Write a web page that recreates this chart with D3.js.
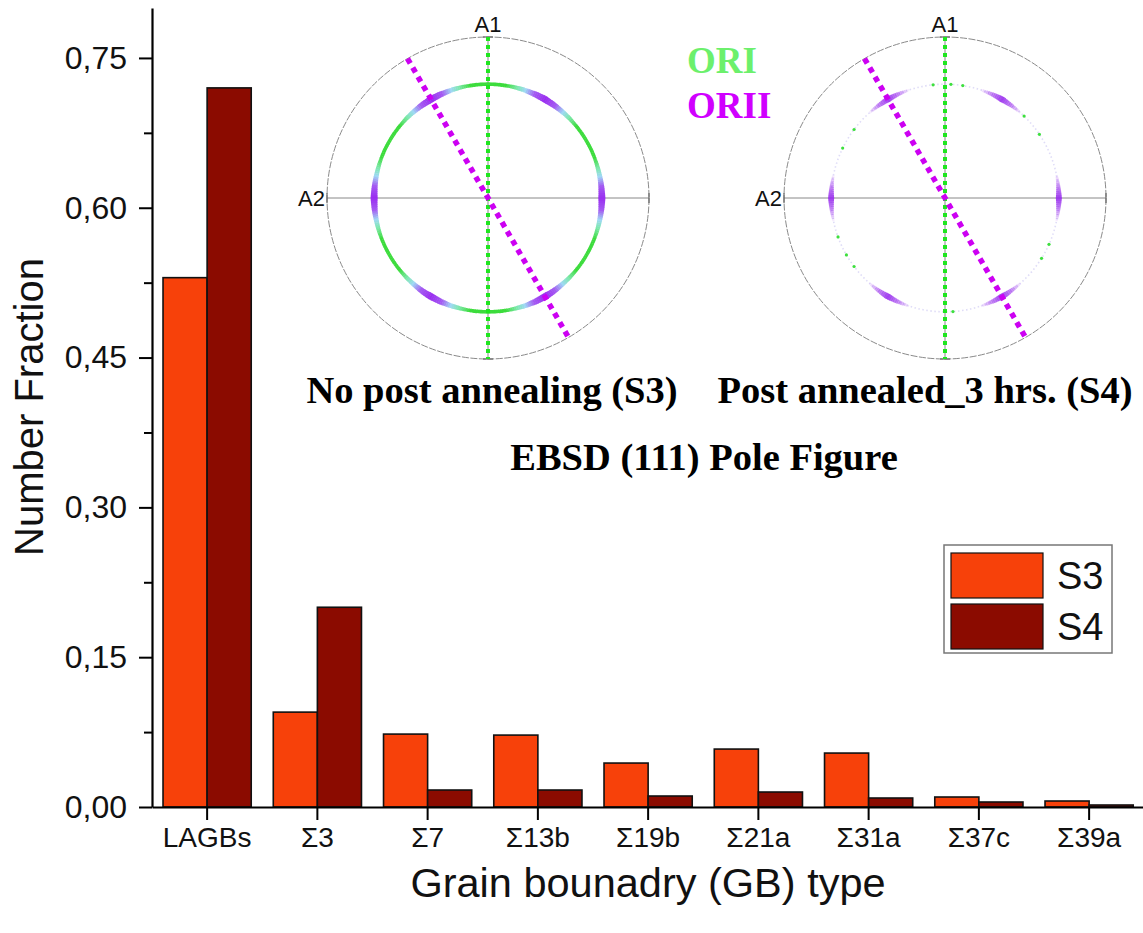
<!DOCTYPE html>
<html>
<head>
<meta charset="utf-8">
<script src="https://cdn.jsdelivr.net/npm/d3@7/dist/d3.min.js"></script>
<style>
  html, body { margin: 0; padding: 0; background: #fff; }
  svg { display: block; }
</style>
</head>
<body>
<svg id="chart" width="1143" height="933"></svg>
<script>
// Grain boundary character distribution
const categories = ["LAGBs", "Σ3", "Σ7", "Σ13b", "Σ19b", "Σ21a", "Σ31a", "Σ37c", "Σ39a"];
const seriesNames = ["S3", "S4"];
const s3Values = [0.530, 0.095, 0.073, 0.072, 0.044, 0.058, 0.054, 0.010, 0.006];
const s4Values = [0.720, 0.200, 0.017, 0.017, 0.011, 0.015, 0.009, 0.005, 0.002];
const yTickValues = [0.00, 0.15, 0.30, 0.45, 0.60, 0.75];
const yMinorTickValues = [0.075, 0.225, 0.375, 0.525, 0.675];

// (111) pole figure content
const poleTilt = 70.53;                       // angle between {111} poles, degrees
const oriIIAzimuths = [0, 60, 120, 180, 240, 300];
const oriTraceAzimuth = 90;                   // ORI trace direction
const oriIITraceAzimuth = 120;                // ORII trace direction
const s4OriSpots = [96, 87, 81, 34, 154, 200, 210, 217, 336, 328, 274, 143, 46];

const svg = d3.select("#chart");
const sansFont = "'Liberation Sans', Arial, sans-serif";
const serifFont = "'Liberation Serif', 'Times New Roman', serif";

const x = d3.scaleBand().domain(categories).range([152, 1144.25]).padding(0);
const xs = d3.scaleBand().domain(seriesNames).range([0, x.bandwidth()]).paddingInner(0).paddingOuter(0.25);
const y = d3.scaleLinear().domain([0, 0.8]).range([807, 8]);
const color = d3.scaleOrdinal().domain(seriesNames).range(["#f7410a", "#8b0b00"]);

const rows = categories.map((c, i) => ({ cat: c, S3: s3Values[i], S4: s4Values[i] }));

// bars
const groups = svg.append("g").selectAll("g").data(rows).join("g")
  .attr("transform", d => `translate(${x(d.cat)},0)`);
groups.selectAll("rect")
  .data(d => seriesNames.map(s => ({ s, v: d[s] })))
  .join("rect")
  .attr("x", d => xs(d.s))
  .attr("width", xs.bandwidth())
  .attr("y", d => y(d.v))
  .attr("height", d => y(0) - y(d.v))
  .attr("fill", d => color(d.s))
  .attr("stroke", "#111")
  .attr("stroke-width", 1.6);

// axes
const fmt = d => d3.format(".2f")(d).replace(".", ",");
const yAxis = svg.append("g").attr("transform", "translate(152,0)")
  .call(d3.axisLeft(y).tickValues(yTickValues).tickSize(13).tickSizeOuter(0).tickPadding(12).tickFormat(fmt));
svg.append("g").attr("transform", "translate(152,0)")
  .call(d3.axisLeft(y).tickValues(yMinorTickValues).tickSize(8).tickSizeOuter(0).tickFormat(""))
  .call(g => g.select(".domain").remove());
const xAxis = svg.append("g").attr("transform", "translate(0,807)")
  .call(d3.axisBottom(x).tickSize(13).tickSizeOuter(0).tickPadding(7));

svg.selectAll(".domain").attr("stroke", "#000").attr("stroke-width", 2.2);
svg.selectAll(".tick line").attr("stroke", "#000").attr("stroke-width", 2);
yAxis.selectAll(".tick text").attr("font-family", sansFont).attr("font-size", 32).attr("fill", "#111");
xAxis.selectAll(".tick text").attr("font-family", sansFont).attr("font-size", 28).attr("fill", "#111");

// axis titles
svg.append("text")
  .attr("transform", "translate(43,407) rotate(-90)")
  .attr("text-anchor", "middle")
  .attr("font-family", sansFont).attr("font-size", 40).attr("fill", "#111")
  .text("Number Fraction");
svg.append("text")
  .attr("x", 648).attr("y", 897)
  .attr("text-anchor", "middle")
  .attr("font-family", sansFont).attr("font-size", 41.5).attr("fill", "#111")
  .text("Grain bounadry (GB) type");

// legend
const legend = svg.append("g").attr("transform", "translate(944,545)");
legend.append("rect").attr("width", 168).attr("height", 108)
  .attr("fill", "#fff").attr("stroke", "#777").attr("stroke-width", 1.5);
const li = legend.selectAll("g.item").data(seriesNames).join("g")
  .attr("class", "item")
  .attr("transform", (d, i) => `translate(7,${8 + i * 51})`);
li.append("rect").attr("width", 92).attr("height", 45)
  .attr("fill", d => color(d)).attr("stroke", "#111").attr("stroke-width", 1.2);
li.append("text").attr("x", 106).attr("y", 36)
  .attr("font-family", sansFont).attr("font-size", 38).attr("fill", "#111")
  .text(d => d);

// ---------- (111) pole figures ----------
const R = 161;
const stereo = d3.scaleLinear().domain([0, 1]).range([0, R]);   // r = R * tan(theta/2)
const rad = a => a * Math.PI / 180;
const ringR = stereo(Math.tan(rad(poleTilt) / 2));
const azDist = a => d3.min(oriIIAzimuths, p => Math.abs(((a - p) % 360 + 540) % 360 - 180));
const ringColor = d3.scaleLinear()
  .domain([0, 6, 11, 15, 21])
  .range(["#9a2ff0", "#a45af2", "#9fd8f4", "#7fe8b0", "#3cdc3c"])
  .clamp(true);
const ringWidth = d3.scaleLinear().domain([0, 10, 20]).range([7, 5, 3.6]).clamp(true);
const fadeOpacity = d3.scaleLinear().domain([0, 6, 12]).range([0.9, 0.5, 0]).clamp(true);
const fadeWidth = d3.scaleLinear().domain([0, 12]).range([6, 2]).clamp(true);
const arcGen = d3.arc();
const segments = d3.range(0, 360, 1);

const defs = svg.append("defs");
defs.append("filter").attr("id", "soft").append("feGaussianBlur").attr("stdDeviation", 0.7);

function poleFigure(cx, cy, mode) {
  const g = svg.append("g").attr("transform", `translate(${cx},${cy})`);
  // reference frame
  g.append("circle").attr("r", R).attr("fill", "none")
    .attr("stroke", "#8a8a8a").attr("stroke-width", 1).attr("stroke-dasharray", "7,1.5");
  g.append("line").attr("x1", -R).attr("x2", R).attr("stroke", "#888").attr("stroke-width", 1);
  g.append("line").attr("y1", -R).attr("y2", R).attr("stroke", "#888").attr("stroke-width", 1);
  [[-R, -5, -R, 5], [R, -5, R, 5], [-5, -R, 5, -R], [-5, R, 5, R]].forEach(t =>
    g.append("line").attr("x1", t[0]).attr("y1", t[1]).attr("x2", t[2]).attr("y2", t[3])
      .attr("stroke", "#666").attr("stroke-width", 1.2));

  const ring = g.append("g").attr("filter", "url(#soft)");
  if (mode === "S3") {
    ring.selectAll("path").data(segments).join("path")
      .attr("d", a => {
        const w = ringWidth(azDist(a));
        return arcGen({ innerRadius: ringR - w / 2, outerRadius: ringR + w / 2,
          startAngle: rad(90 - a - 0.6), endAngle: rad(90 - a + 0.6) });
      })
      .attr("fill", a => ringColor(azDist(a)));
  } else {
    ring.append("circle").attr("r", ringR).attr("fill", "none")
      .attr("stroke", "#c9c4f2").attr("stroke-width", 1.6).attr("stroke-dasharray", "1.5,2.5")
      .attr("opacity", 0.6);
    ring.selectAll("path").data(segments.filter(a => azDist(a) < 13)).join("path")
      .attr("d", a => {
        const w = fadeWidth(azDist(a));
        return arcGen({ innerRadius: ringR - w / 2, outerRadius: ringR + w / 2,
          startAngle: rad(90 - a - 0.6), endAngle: rad(90 - a + 0.6) });
      })
      .attr("fill", "#9a30ee")
      .attr("opacity", a => fadeOpacity(azDist(a)));
    ring.selectAll("circle.spot").data(s4OriSpots).join("circle")
      .attr("class", "spot")
      .attr("cx", a => ringR * Math.cos(rad(a)))
      .attr("cy", a => -ringR * Math.sin(rad(a)))
      .attr("r", 1.6).attr("fill", "#3ee03e");
  }

  // orientation traces
  const trace = (az, col, w, dash) => g.append("line")
    .attr("x1", R * Math.cos(rad(az))).attr("y1", -R * Math.sin(rad(az)))
    .attr("x2", -R * Math.cos(rad(az))).attr("y2", R * Math.sin(rad(az)))
    .attr("stroke", col).attr("stroke-width", w).attr("stroke-dasharray", dash);
  trace(oriTraceAzimuth, "#1fe61f", 4, "4,4");
  trace(oriIITraceAzimuth, "#cc00f2", 5.5, "5.5,5");

  g.append("text").attr("x", 0).attr("y", -R - 5).attr("text-anchor", "middle")
    .attr("font-family", sansFont).attr("font-size", 22).attr("fill", "#111").text("A1");
  g.append("text").attr("x", -R - 2).attr("y", 8).attr("text-anchor", "end")
    .attr("font-family", sansFont).attr("font-size", 22).attr("fill", "#111").text("A2");
}
poleFigure(488, 198, "S3");
poleFigure(945, 198, "S4");

// pole figure captions and key
const caption = (t, cx, cy, anchor, col, size) => svg.append("text")
  .attr("x", cx).attr("y", cy).attr("text-anchor", anchor)
  .attr("font-family", serifFont).attr("font-weight", "bold").attr("font-size", size || 38.5)
  .attr("fill", col || "#000").text(t);
caption("No post annealing (S3)", 492, 403, "middle");
caption("Post annealed_3 hrs. (S4)", 925, 403, "middle");
caption("EBSD (111) Pole Figure", 704, 470, "middle");
caption("ORI", 687, 73, "start", "#6cf06c", 37);
caption("ORII", 687, 118, "start", "#d000ff", 37);
</script>
</body>
</html>
